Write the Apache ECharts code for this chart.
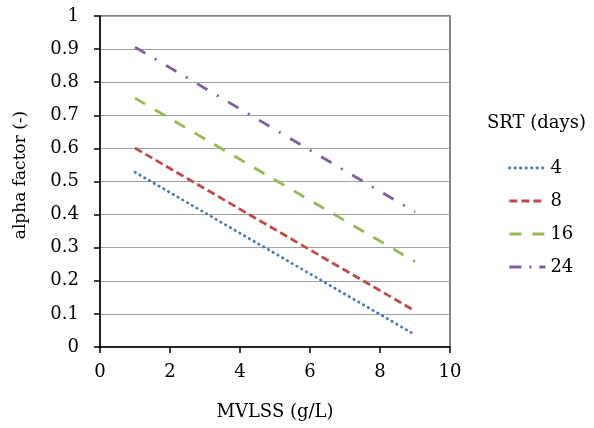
<!DOCTYPE html>
<html><head><meta charset="utf-8">
<script src="https://cdn.jsdelivr.net/npm/echarts@6/dist/echarts.min.js"></script>
<style>html,body{margin:0;padding:0;background:#fff}#c{width:594px;height:428px}</style>
</head><body><div id="c"></div>
<script>
const xValues = [1, 9];
const seriesNames = ['4', '8', '16', '24'];
const srt4 = [0.528, 0.037];
const srt8 = [0.601, 0.109];
const srt16 = [0.752, 0.258];
const srt24 = [0.906, 0.408];
const xTicks = [0, 2, 4, 6, 8, 10];
const yTicks = [0, 0.1, 0.2, 0.3, 0.4, 0.5, 0.6, 0.7, 0.8, 0.9, 1];
const xTitle = 'MVLSS (g/L)';
const yTitle = 'alpha factor (-)';
const legendTitle = 'SRT (days)';

const FONT = 'DejaVu Serif';
const FS = 18;
const allData = [srt4, srt8, srt16, srt24];
const colors = ['#4a7ebb', '#be4b48', '#98b954', '#7d60a0'];
const dashes = [[0.5, 5], [8, 4], [12, 11], [12, 11, 2, 11]];
const legendDashes = [[0.5, 5], [8, 4], [12, 11], [12, 8, 2, 8]];
const caps = ['round', 'butt', 'butt', 'butt'];

const chart = echarts.init(document.getElementById('c'), null, {renderer: 'canvas'});
chart.setOption({
  animation: false,
  backgroundColor: '#fff',
  grid: {left: 100, right: 144, top: 16, bottom: 81, show: true, borderColor: '#595959', borderWidth: 1.5},
  xAxis: {
    type: 'value', min: 0, max: 10, interval: 2,
    name: xTitle, nameLocation: 'middle', nameGap: 56,
    nameTextStyle: {fontFamily: FONT, fontSize: FS, color: '#000'},
    axisLine: {show: true, onZero: false, lineStyle: {color: '#000', width: 1.5}},
    axisTick: {show: true, length: 6, lineStyle: {color: '#000', width: 1.5}},
    axisLabel: {fontFamily: FONT, fontSize: FS, color: '#000', margin: 16,
      formatter: v => xTicks.includes(v) ? String(v) : ''},
    splitLine: {show: false}
  },
  yAxis: {
    type: 'value', min: 0, max: 1, interval: 0.1,
    axisLine: {show: true, onZero: false, lineStyle: {color: '#000', width: 1.5}},
    axisTick: {show: true, length: 6, lineStyle: {color: '#000', width: 1.5}},
    axisLabel: {fontFamily: FONT, fontSize: FS, color: '#000', margin: 21,
      formatter: v => { const t = yTicks.find(y => Math.abs(y - v) < 1e-9); return t === undefined ? '' : String(t); }},
    splitLine: {show: true, lineStyle: {color: '#a0a0a0', width: 1.2}}
  },
  legend: {
    orient: 'vertical', left: 503, top: 154, itemWidth: 36, itemHeight: 18, itemGap: 15,
    itemStyle: {opacity: 0},
    textStyle: {fontFamily: FONT, fontSize: FS, color: '#000'},
    data: seriesNames.map((n, i) => ({
      name: n,
      lineStyle: {width: 2.8, color: colors[i], type: legendDashes[i], cap: caps[i]}
    }))
  },
  graphic: [{
    type: 'text', left: 487, top: 114,
    style: {text: legendTitle, fontFamily: FONT, fontSize: FS, fill: '#000'}
  }, {
    type: 'text', x: 21, y: 175, rotation: Math.PI / 2,
    style: {text: yTitle, fontFamily: FONT, fontSize: 17, fill: '#000', align: 'center', verticalAlign: 'middle'}
  }],
  series: seriesNames.map((n, i) => ({
    name: n, type: 'line', showSymbol: false, symbol: 'none',
    data: xValues.map((x, j) => [x, allData[i][j]]),
    lineStyle: {color: colors[i], width: 2.8, type: dashes[i], cap: caps[i]},
    itemStyle: {color: colors[i]}
  }))
});
</script></body></html>
